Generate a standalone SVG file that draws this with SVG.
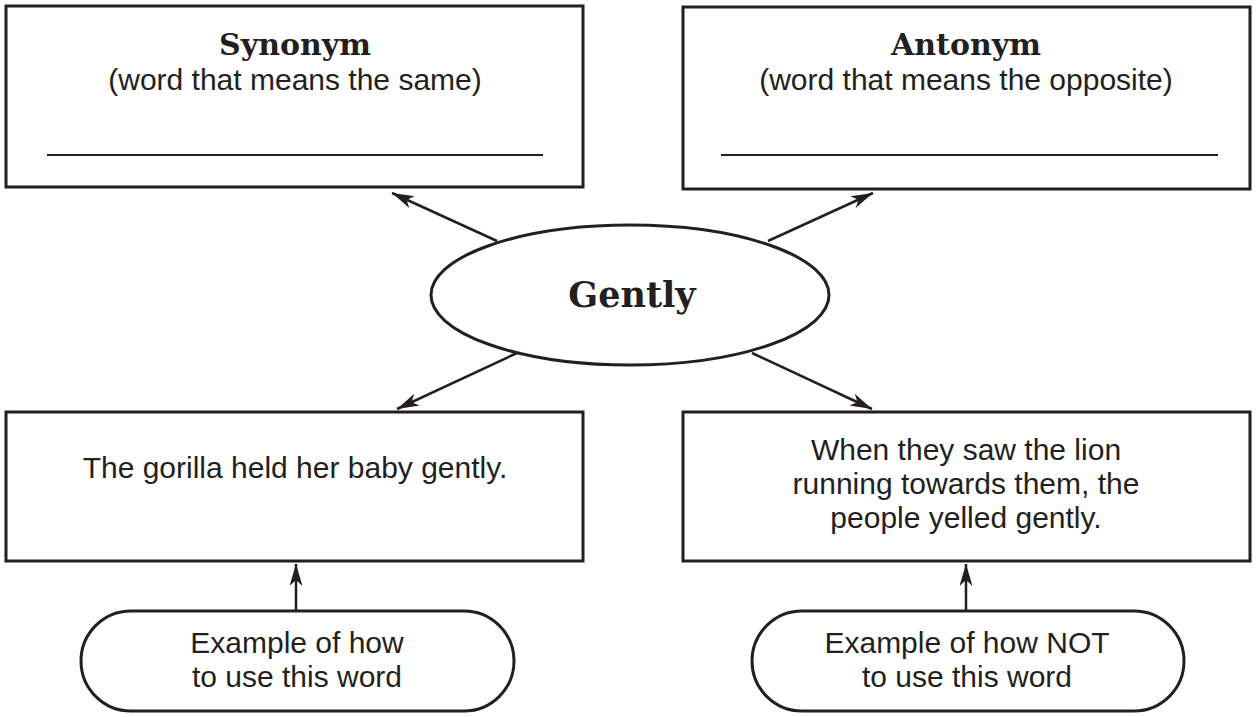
<svg xmlns="http://www.w3.org/2000/svg" width="1256" height="717" viewBox="0 0 1256 717">
<style>
.box{fill:#fff;stroke:#231f20;stroke-width:3}
.rule{stroke:#231f20;stroke-width:2}
.conn{stroke:#231f20;stroke-width:2.5;fill:none;marker-end:url(#ah)}
.t{font-family:"Liberation Sans",Arial,sans-serif;font-size:30px;fill:#231f20;text-anchor:middle}
.h{font-family:"DejaVu Serif","Liberation Serif",serif;font-weight:bold;font-size:30px;fill:#231f20;text-anchor:middle}
.g{font-family:"DejaVu Serif","Liberation Serif",serif;font-weight:bold;font-size:35px;fill:#231f20;text-anchor:middle}
</style>
<defs>
<marker id="ah" viewBox="0 0 22 13" refX="22" refY="6.5" markerWidth="22" markerHeight="13" markerUnits="userSpaceOnUse" orient="auto">
<path d="M0,0 L22,6.5 L0,13 L6,6.5 Z" fill="#231f20"/>
</marker>
</defs>
<rect width="1256" height="717" fill="#fff"/>
<g id="connectors">
<line class="conn" x1="497" y1="241" x2="392" y2="193"/>
<line class="conn" x1="768" y1="241" x2="873" y2="193"/>
<line class="conn" x1="517" y1="353" x2="397" y2="409"/>
<line class="conn" x1="752" y1="353" x2="872" y2="409"/>
<line class="conn" x1="296" y1="611" x2="296" y2="564"/>
<line class="conn" x1="966" y1="611" x2="966" y2="564"/>
</g>
<g id="synonym">
<rect class="box" x="6" y="6" width="577" height="181"/>
<text class="h" x="295" y="55">Synonym</text>
<text class="t" x="295" y="90">(word that means the same)</text>
<line class="rule" x1="47" y1="155" x2="543" y2="155"/>
</g>
<g id="antonym">
<rect class="box" x="683" y="7" width="567" height="182"/>
<text class="h" x="966" y="55">Antonym</text>
<text class="t" x="966" y="90">(word that means the opposite)</text>
<line class="rule" x1="721" y1="155" x2="1218" y2="155"/>
</g>
<g id="center">
<ellipse class="box" cx="630" cy="295" rx="199" ry="70"/>
<text class="g" x="632" y="307">Gently</text>
</g>
<g id="example">
<rect class="box" x="6" y="412" width="577" height="149"/>
<text class="t" x="295" y="478">The gorilla held her baby gently.</text>
</g>
<g id="nonexample">
<rect class="box" x="683" y="412" width="567" height="149"/>
<text class="t" x="966" y="460">When they saw the lion</text>
<text class="t" x="966" y="494">running towards them, the</text>
<text class="t" x="966" y="528">people yelled gently.</text>
</g>
<g id="label-how">
<rect class="box" x="81" y="611" width="433" height="100" rx="50" ry="50"/>
<text class="t" x="297" y="653">Example of how</text>
<text class="t" x="297" y="687">to use this word</text>
</g>
<g id="label-not">
<rect class="box" x="752" y="611" width="432" height="100" rx="50" ry="50"/>
<text class="t" x="967" y="653">Example of how NOT</text>
<text class="t" x="967" y="687">to use this word</text>
</g>
</svg>
